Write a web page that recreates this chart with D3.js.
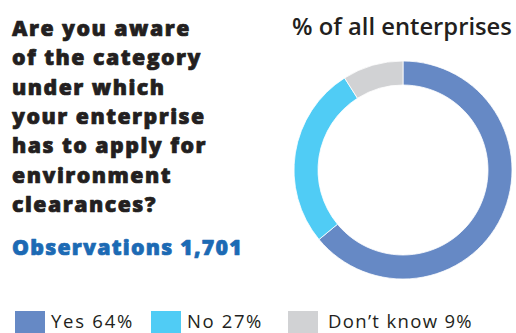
<!DOCTYPE html>
<html>
<head>
<meta charset="utf-8">
<script src="https://cdn.jsdelivr.net/npm/d3@7"></script>
<style>
  html, body { margin: 0; padding: 0; background: #fff; }
  svg { display: block; }
</style>
</head>
<body>
<svg id="chart" width="516" height="333"></svg>
<script>
// Survey answers
const categories = ["Yes", "No", "Don\u2019t know"];
const shares = [64, 27, 9];
const colors = ["#6689c5", "#50ccf5", "#d1d2d4"];
const questionLines = [
  "Are you aware",
  "of the category",
  "under which",
  "your enterprise",
  "has to apply for",
  "environment",
  "clearances?"
];
const observationsLabel = "Observations 1,701";
const donutTitle = "% of all enterprises";

const svg = d3.select("#chart");
const font = "'Open Sans', 'DejaVu Sans', sans-serif";

// Scale a text's font size so it spans the given width
function fitWidth(sel, width) {
  const node = sel.node();
  const size = parseFloat(sel.attr("font-size"));
  const w = node.getComputedTextLength();
  sel.attr("font-size", size * width / w);
  return size * width / w;
}

// Spread a text's letters so it spans the given width
function fitSpacing(sel, width) {
  const node = sel.node();
  const w = node.getComputedTextLength();
  const n = node.textContent.length;
  const ls = (width - w) / n;
  sel.attr("letter-spacing", ls);
  return ls;
}

// Question block (a thin stroke gives the heavy headline weight)
const q = svg.append("g").attr("font-family", font).attr("font-weight", 800)
  .attr("fill", "#231f20").attr("stroke", "#231f20").attr("stroke-width", 0.7)
  .attr("stroke-linejoin", "round");
const qText = q.selectAll("text").data(questionLines).join("text")
  .attr("x", 12)
  .attr("y", (d, i) => 36 + i * 29.3)
  .attr("font-size", 21.3)
  .text(d => d);
const qLs = fitSpacing(qText.filter((d, i) => i === 1), 190);
qText.attr("letter-spacing", qLs);

const obs = svg.append("text")
  .attr("x", 12).attr("y", 255)
  .attr("font-family", font).attr("font-weight", 800)
  .attr("font-size", 21.3).attr("fill", "#1c6ab4")
  .attr("stroke", "#1c6ab4").attr("stroke-width", 0.7).attr("stroke-linejoin", "round")
  .text(observationsLabel);
fitSpacing(obs, 231);

// Donut
const cx = 403, cy = 170, rOuter = 109, rInner = 85;
const title = svg.append("text")
  .attr("x", 292).attr("y", 35)
  .attr("font-family", font).attr("font-weight", 600)
  .attr("font-size", 20).attr("fill", "#231f20")
  .text(donutTitle);
fitWidth(title, 220);

const data = categories.map((c, i) => ({ category: c, value: shares[i], color: colors[i] }));
const pie = d3.pie().value(d => d.value).sort(null);
const arc = d3.arc().innerRadius(rInner).outerRadius(rOuter);

svg.append("g").attr("transform", `translate(${cx},${cy})`)
  .selectAll("path").data(pie(data)).join("path")
  .attr("d", arc)
  .attr("fill", d => d.data.color)
  .attr("stroke", "#fff")
  .attr("stroke-width", 0.8);

// Legend
const legendX = [15, 151, 288];
const legendTextWidth = [83, 76, 145];
const legend = svg.append("g").attr("font-family", font).attr("fill", "#231f20");
const items = legend.selectAll("g").data(data).join("g")
  .attr("transform", (d, i) => `translate(${legendX[i]},311)`);
items.append("rect").attr("width", 30).attr("height", 22).attr("fill", d => d.color);
items.append("text")
  .attr("x", (d, i) => i === 2 ? 40 : 36)
  .attr("y", 16.5)
  .attr("font-weight", 400)
  .attr("font-size", 18.5)
  .text(d => `${d.category} ${d.value}%`)
  .each(function (d, i) { fitSpacing(d3.select(this), legendTextWidth[i]); });
</script>
</body>
</html>
